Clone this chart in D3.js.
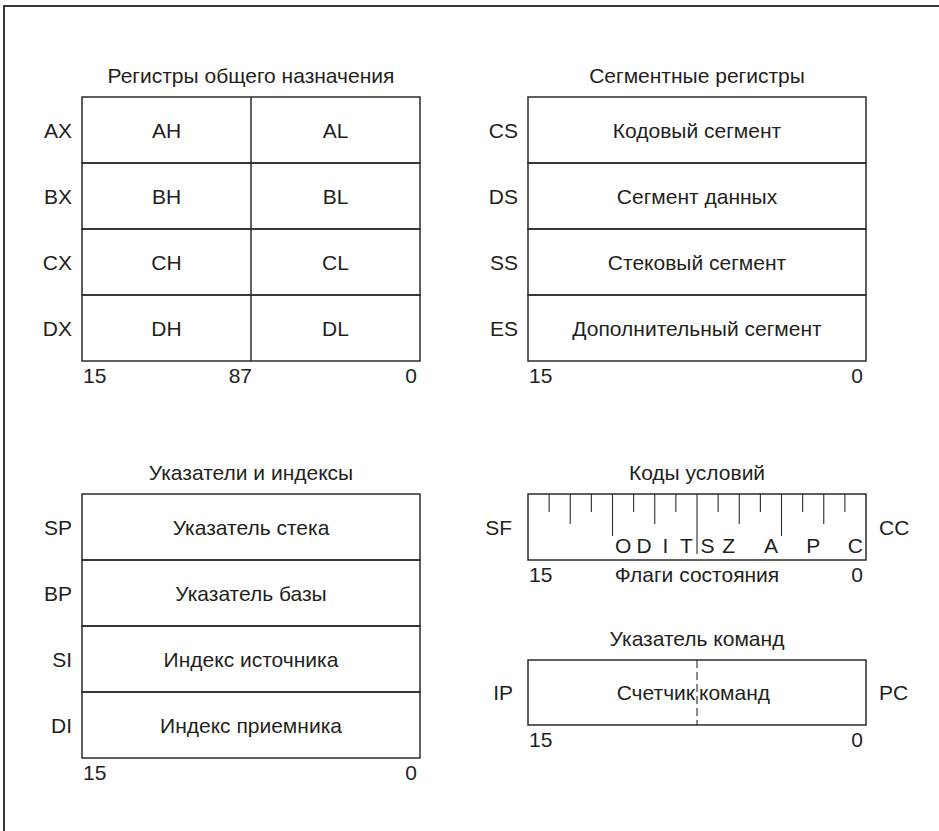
<!DOCTYPE html>
<html>
<head>
<meta charset="utf-8">
<script src="https://cdn.jsdelivr.net/npm/d3@7"></script>
<style>
  html, body { margin: 0; padding: 0; background: #fff; }
  text { font-family: "Liberation Sans", Arial, sans-serif; fill: #231f20; }
</style>
</head>
<body>
<div id="chart"></div>
<script>
// регистры общего назначения
const generalRegs = ['AX', 'BX', 'CX', 'DX'];
const generalHigh = ['AH', 'BH', 'CH', 'DH'];
const generalLow = ['AL', 'BL', 'CL', 'DL'];

// сегментные регистры
const segmentRegs = ['CS', 'DS', 'SS', 'ES'];
const segmentNames = ['Кодовый сегмент', 'Сегмент данных', 'Стековый сегмент', 'Дополнительный сегмент'];

// указатели и индексы
const pointerRegs = ['SP', 'BP', 'SI', 'DI'];
const pointerNames = ['Указатель стека', 'Указатель базы', 'Индекс источника', 'Индекс приемника'];

// флаги
const flagLetters = ['O', 'D', 'I', 'T', 'S', 'Z', 'A', 'P', 'C'];
const flagBits = [11, 10, 9, 8, 7, 6, 4, 2, 0];

const titles = ['Регистры общего назначения', 'Сегментные регистры', 'Указатели и индексы', 'Коды условий', 'Указатель команд'];

const width = 939, height = 831;
const lineColor = '#2b2b2b';
const fs = 21;

const svg = d3.select('#chart').append('svg')
  .attr('width', width)
  .attr('height', height)
  .attr('viewBox', `0 0 ${width} ${height}`);

// рамка
svg.append('path')
  .attr('d', `M4,${height} V6 H${width}`)
  .attr('fill', 'none')
  .attr('stroke', '#3a3a3a')
  .attr('stroke-width', 2);

const colLeft = [82, 420];
const colRight = [528, 866];
const rowH = 66;

// разрядная шкала, граница битов 16..0
function bitScale(range) {
  return d3.scaleLinear().domain([16, 0]).range(range);
}

function title(x, y, txt) {
  svg.append('text')
    .attr('x', x).attr('y', y)
    .attr('text-anchor', 'middle')
    .attr('font-size', fs)
    .text(txt);
}

function bitLabels(xs, yBottom, labels) {
  // labels: [{bit, txt, anchor}]
  svg.append('g').selectAll('text')
    .data(labels)
    .enter()
    .append('text')
    .attr('x', d => xs(d.bit) + (d.dx || 0))
    .attr('y', yBottom + 22)
    .attr('text-anchor', d => d.anchor)
    .attr('font-size', fs)
    .text(d => d.txt);
}

// блок регистров из нескольких строк
function registerBlock(range, top, names, cells, split) {
  const xs = bitScale(range);
  const ys = d3.scaleBand().domain(names).range([top, top + rowH * names.length]);
  const g = svg.append('g');

  g.selectAll('rect.row')
    .data(names)
    .enter()
    .append('rect')
    .attr('class', 'row')
    .attr('x', xs(16))
    .attr('y', d => ys(d))
    .attr('width', xs(0) - xs(16))
    .attr('height', ys.bandwidth())
    .attr('fill', 'none')
    .attr('stroke', lineColor)
    .attr('stroke-width', 1.5);

  if (split) {
    g.append('line')
      .attr('x1', xs(8)).attr('x2', xs(8))
      .attr('y1', ys.range()[0]).attr('y2', ys.range()[1])
      .attr('stroke', lineColor)
      .attr('stroke-width', 1.5);
  }

  g.selectAll('text.name')
    .data(names)
    .enter()
    .append('text')
    .attr('class', 'name')
    .attr('x', xs(16) - 10)
    .attr('y', d => ys(d) + ys.bandwidth() / 2)
    .attr('dy', '0.36em')
    .attr('text-anchor', 'end')
    .attr('font-size', fs)
    .text(d => d);

  cells.forEach(c => {
    g.selectAll(null)
      .data(c.values)
      .enter()
      .append('text')
      .attr('x', xs(c.center))
      .attr('y', (d, i) => ys(names[i]) + ys.bandwidth() / 2)
      .attr('dy', '0.36em')
      .attr('text-anchor', 'middle')
      .attr('font-size', fs)
      .text(d => d);
  });
  return { xs, bottom: ys.range()[1] };
}

// Регистры общего назначения
title(251, 83, titles[0]);
const gen = registerBlock(colLeft, 97, generalRegs,
  [{ values: generalHigh, center: 12 }, { values: generalLow, center: 4 }], true);
bitLabels(gen.xs, gen.bottom, [
  { bit: 16, txt: '15', anchor: 'start', dx: 1 },
  { bit: 8, txt: '87', anchor: 'end', dx: 1 },
  { bit: 0, txt: '0', anchor: 'end', dx: -3 }
]);

// Сегментные регистры
title(697, 83, titles[1]);
const seg = registerBlock(colRight, 97, segmentRegs, [{ values: segmentNames, center: 8 }], false);
bitLabels(seg.xs, seg.bottom, [
  { bit: 16, txt: '15', anchor: 'start', dx: 1 },
  { bit: 0, txt: '0', anchor: 'end', dx: -3 }
]);

// Указатели и индексы
title(251, 480, titles[2]);
const ptr = registerBlock(colLeft, 494, pointerRegs, [{ values: pointerNames, center: 8 }], false);
bitLabels(ptr.xs, ptr.bottom, [
  { bit: 16, txt: '15', anchor: 'start', dx: 1 },
  { bit: 0, txt: '0', anchor: 'end', dx: -3 }
]);

// Коды условий
title(697, 480, titles[3]);
const fx = bitScale(colRight);
const fTop = 494, fBottom = 560;
const fg = svg.append('g');
fg.append('rect')
  .attr('x', fx(16)).attr('y', fTop)
  .attr('width', fx(0) - fx(16)).attr('height', fBottom - fTop)
  .attr('fill', 'none').attr('stroke', lineColor).attr('stroke-width', 1.5);

const tickBits = d3.range(15, 0, -1);
function tickLen(b) {
  if (b === 8) return 60;
  if (b % 4 === 0) return 42;
  if (b % 2 === 0) return 30;
  return 18;
}
fg.selectAll('line.tick')
  .data(tickBits)
  .enter()
  .append('line')
  .attr('class', 'tick')
  .attr('x1', d => fx(d)).attr('x2', d => fx(d))
  .attr('y1', fTop).attr('y2', d => fTop + tickLen(d))
  .attr('stroke', lineColor)
  .attr('stroke-width', 1.1);

fg.selectAll('text.flag')
  .data(flagLetters)
  .enter()
  .append('text')
  .attr('class', 'flag')
  .attr('x', (d, i) => fx(flagBits[i] + 0.5))
  .attr('y', fBottom - 7)
  .attr('text-anchor', 'middle')
  .attr('font-size', fs)
  .text(d => d);

fg.append('text')
  .attr('x', fx(16) - 16).attr('y', (fTop + fBottom) / 2)
  .attr('dy', '0.36em').attr('text-anchor', 'end').attr('font-size', fs)
  .text('SF');
fg.append('text')
  .attr('x', fx(0) + 13).attr('y', (fTop + fBottom) / 2)
  .attr('dy', '0.36em').attr('text-anchor', 'start').attr('font-size', fs)
  .text('CC');
bitLabels(fx, fBottom, [
  { bit: 16, txt: '15', anchor: 'start', dx: 1 },
  { bit: 8, txt: 'Флаги состояния', anchor: 'middle', dx: 0 },
  { bit: 0, txt: '0', anchor: 'end', dx: -3 }
]);

// Указатель команд
title(697, 646, titles[4]);
const iTop = 660, iBottom = 725;
const ig = svg.append('g');
ig.append('rect')
  .attr('x', fx(16)).attr('y', iTop)
  .attr('width', fx(0) - fx(16)).attr('height', iBottom - iTop)
  .attr('fill', 'none').attr('stroke', lineColor).attr('stroke-width', 1.5);
ig.append('line')
  .attr('x1', fx(8)).attr('x2', fx(8))
  .attr('y1', iTop).attr('y2', iBottom)
  .attr('stroke', lineColor).attr('stroke-width', 1.1)
  .attr('stroke-dasharray', '8,4');
const iMid = (iTop + iBottom) / 2;
ig.append('text')
  .attr('x', fx(8) - 2).attr('y', iMid).attr('dy', '0.36em')
  .attr('text-anchor', 'end').attr('font-size', fs).text('Счетчик');
ig.append('text')
  .attr('x', fx(8) + 2).attr('y', iMid).attr('dy', '0.36em')
  .attr('text-anchor', 'start').attr('font-size', fs).text('команд');
ig.append('text')
  .attr('x', fx(16) - 15).attr('y', iMid).attr('dy', '0.36em')
  .attr('text-anchor', 'end').attr('font-size', fs).text('IP');
ig.append('text')
  .attr('x', fx(0) + 13).attr('y', iMid).attr('dy', '0.36em')
  .attr('text-anchor', 'start').attr('font-size', fs).text('PC');
bitLabels(fx, iBottom, [
  { bit: 16, txt: '15', anchor: 'start', dx: 1 },
  { bit: 0, txt: '0', anchor: 'end', dx: -3 }
]);
</script>
</body>
</html>
